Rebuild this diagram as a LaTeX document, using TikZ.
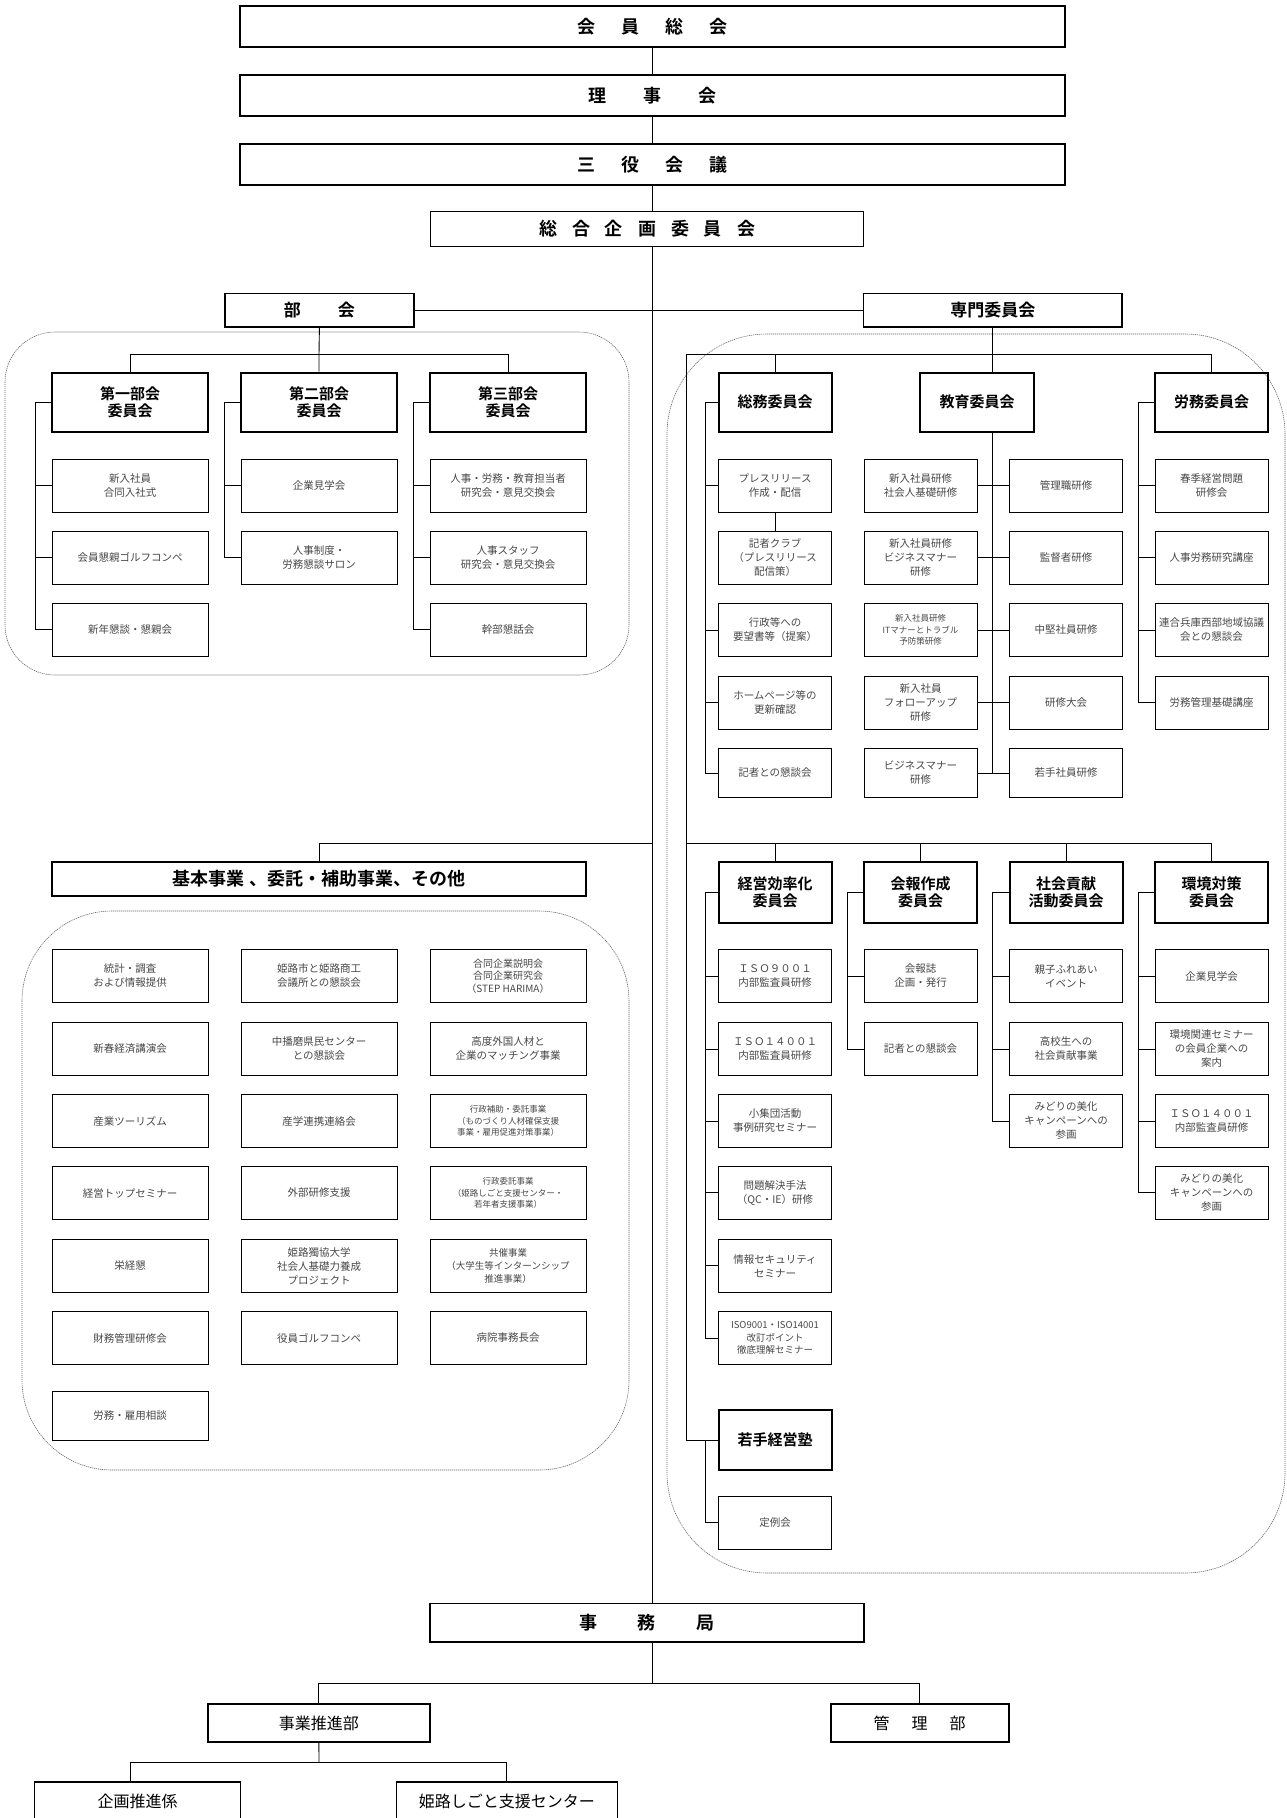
\documentclass[tikz,border=0pt]{standalone}
\usepackage{fontspec}
\setmainfont{Noto Sans CJK JP}[BoldFont={Noto Sans CJK JP Bold}]
\usetikzlibrary{calc}
\tikzset{
  topbox/.style={draw, line width=1.6pt, minimum width=825, minimum height=41,
    font=\bfseries\fontsize{18}{20}\selectfont},
  midbox/.style={draw, line width=1.6pt, minimum width=433, minimum height=35,
    font=\bfseries\fontsize{18}{20}\selectfont},
  head/.style={draw, line width=2pt, minimum width=156, minimum height=59, align=center,
    inner sep=1pt, font=\bfseries\fontsize{15}{17}\selectfont},
  item/.style={draw, line width=0.8pt, minimum width=156, minimum height=53, align=center,
    inner sep=1pt, text=black!72, font=\fontsize{10.5}{14}\selectfont},
  small/.style={font=\fontsize{8.5}{11.5}\selectfont},
  low/.style={minimum height=48.6},
  narrow/.style={minimum width=113},
  region/.style={draw=black!60, line width=0.6pt, dash pattern=on 1.2pt off 0.8pt},
  conn/.style={line width=0.9pt},
  office/.style={draw, line width=1.6pt, minimum height=38.5, font=\fontsize{16}{18}\selectfont}
}
\begin{document}
\begin{tikzpicture}[x=1pt, y=-1pt]
  \useasboundingbox (0,0) rectangle (1287,1818);
  \clip (0,0) rectangle (1287,1818);

  % frames
  \draw[region, rounded corners=50pt] (5,332) rectangle (629,675);
  \draw[region, rounded corners=100pt] (667,334) rectangle (1285,1573);
  \draw[region, rounded corners=90pt] (22,911) rectangle (629,1470);

  % top of the organisation
  \node[topbox] (kaiin) at (652.5,26.5) {会\hspace{26pt}員\hspace{26pt}総\hspace{26pt}会};
  \node[topbox] (riji) at (652.5,95.5) {理\hspace{37pt}事\hspace{37pt}会};
  \node[topbox] (sanyaku) at (652.5,164.4) {三\hspace{26pt}役\hspace{26pt}会\hspace{26pt}議};
  \node[midbox] (sogo) at (647,229) {総\hspace{15pt}合\hspace{15pt}企\hspace{15pt}画\hspace{15pt}委\hspace{15pt}員\hspace{15pt}会};
  \node[draw, line width=1.6pt, minimum width=189, minimum height=33.5,
    font=\bfseries\fontsize{17}{19}\selectfont] (bukai) at (319.4,310.4) {部\hspace{37pt}会};
  \node[draw, line width=1.6pt, minimum width=258.5, minimum height=33.5,
    font=\bfseries\fontsize{17}{19}\selectfont] (senmon) at (992.75,310.4) {専門委員会};

  \draw[conn] (kaiin.south) -- (riji.north);
  \draw[conn] (riji.south) -- (sanyaku.north);
  \draw[conn] (sanyaku.south) -- (sanyaku.south |- sogo.north);
  \draw[conn] (bukai.east) -- (senmon.west);

  % bukai
  \node[head] (dai1) at (130,402.2) {第一部会\\委員会};
  \node[head] (dai2) at (319,402.2) {第二部会\\委員会};
  \node[head] (dai3) at (508,402.2) {第三部会\\委員会};
  \node[item] (i11) at (130,485.8) {新入社員\\合同入社式};
  \node[item] (i12) at (130,557.8) {会員懇親ゴルフコンペ};
  \node[item] (i13) at (130,629.8) {新年懇談・懇親会};
  \node[item] (i21) at (319,485.8) {企業見学会};
  \node[item] (i22) at (319,557.8) {人事制度・\\労務懇談サロン};
  \node[item] (i31) at (508,485.8) {人事・労務・教育担当者\\研究会・意見交換会};
  \node[item] (i32) at (508,557.8) {人事スタッフ\\研究会・意見交換会};
  \node[item] (i33) at (508,629.8) {幹部懇話会};

  \coordinate (barB) at (319,354.3);
  \draw[conn] (bukai.south) -- (barB) -- (dai2.north);
  \draw[conn] (dai1.north) |- (barB) -| (dai3.north);
  \draw[conn] (dai1.west) -- ++(-16,0) |- (i13.west);
  \draw[conn] (dai2.west) -- ++(-16,0) |- (i22.west);
  \draw[conn] (dai3.west) -- ++(-16,0) |- (i33.west);
  \foreach \n in {i11,i12,i21,i31,i32}
    \draw[conn] (\n.west) -- ++(-16,0);

  % senmon iinkai, upper row
  \node[head, narrow] (somu) at (775,402.2) {総務委員会};
  \node[head, minimum width=114] (kyoiku) at (977,402.2) {教育委員会};
  \node[head, narrow] (romu) at (1211.5,402.2) {労務委員会};

  \node[item, narrow] (s1) at (775,485.8) {プレスリリース\\作成・配信};
  \node[item, narrow] (s2) at (775,557.8) {記者クラブ\\（プレスリリース\\配信策）};
  \node[item, narrow] (s3) at (775,630) {行政等への\\要望書等（提案）};
  \node[item, narrow] (s4) at (775,702.8) {ホームページ等の\\更新確認};
  \node[item, narrow, low] (s5) at (775,773) {記者との懇談会};

  \node[item, narrow] (e11) at (920.5,485.8) {新入社員研修\\社会人基礎研修};
  \node[item, narrow] (e12) at (920.5,557.8) {新入社員研修\\ビジネスマナー\\研修};
  \node[item, narrow, small] (e13) at (920.5,630) {新入社員研修\\ITマナーとトラブル\\予防策研修};
  \node[item, narrow] (e14) at (920.5,702.8) {新入社員\\フォローアップ\\研修};
  \node[item, narrow, low] (e15) at (920.5,773) {ビジネスマナー\\研修};
  \node[item, narrow] (e21) at (1066,485.8) {管理職研修};
  \node[item, narrow] (e22) at (1066,557.8) {監督者研修};
  \node[item, narrow] (e23) at (1066,630) {中堅社員研修};
  \node[item, narrow] (e24) at (1066,702.8) {研修大会};
  \node[item, narrow, low] (e25) at (1066,773) {若手社員研修};

  \node[item, narrow] (r1) at (1211.5,485.8) {春季経営問題\\研修会};
  \node[item, narrow] (r2) at (1211.5,557.8) {人事労務研究講座};
  \node[item, narrow] (r3) at (1211.5,630) {連合兵庫西部地域協議\\会との懇談会};
  \node[item, narrow] (r4) at (1211.5,702.8) {労務管理基礎講座};

  % senmon iinkai, lower row
  \node[head, narrow, minimum height=60.7] (keiei) at (775,892.3) {経営効率化\\委員会};
  \node[head, narrow, minimum height=60.7] (kaiho) at (920.5,892.3) {会報作成\\委員会};
  \node[head, narrow, minimum height=60.7] (shakai) at (1066,892.3) {社会貢献\\活動委員会};
  \node[head, narrow, minimum height=60.7] (kankyo) at (1211.5,892.3) {環境対策\\委員会};

  \node[item, narrow] (k1) at (775,976) {ＩＳＯ９００１\\内部監査員研修};
  \node[item, narrow] (k2) at (775,1049) {ＩＳＯ１４００１\\内部監査員研修};
  \node[item, narrow] (k3) at (775,1121) {小集団活動\\事例研究セミナー};
  \node[item, narrow] (k4) at (775,1192.8) {問題解決手法\\（QC・IE）研修};
  \node[item, narrow] (k5) at (775,1265.8) {情報セキュリティ\\セミナー};
  \node[item, narrow, font=\fontsize{9.5}{12.5}\selectfont] (k6) at (775,1338) {ISO9001・ISO14001\\改訂ポイント\\徹底理解セミナー};

  \node[item, narrow] (h1) at (920.5,976) {会報誌\\企画・発行};
  \node[item, narrow] (h2) at (920.5,1049) {記者との懇談会};

  \node[item, narrow] (c1) at (1066,976) {親子ふれあい\\イベント};
  \node[item, narrow] (c2) at (1066,1049) {高校生への\\社会貢献事業};
  \node[item, narrow] (c3) at (1066,1121) {みどりの美化\\キャンペーンへの\\参画};

  \node[item, narrow] (v1) at (1211.5,976) {企業見学会};
  \node[item, narrow] (v2) at (1211.5,1049) {環境関連セミナー\\の会員企業への\\案内};
  \node[item, narrow] (v3) at (1211.5,1121) {ＩＳＯ１４００１\\内部監査員研修};
  \node[item, narrow] (v4) at (1211.5,1192.8) {みどりの美化\\キャンペーンへの\\参画};

  \node[head, narrow, minimum height=60] (wakate) at (775,1440) {若手経営塾};
  \node[item, narrow] (teirei) at (775,1522.8) {定例会};

  \coordinate (barU) at (686,354.3);
  \coordinate (barL) at (686,843.3);
  \draw[conn] (barU) -| (romu.north);
  \draw[conn] (barU) |- (wakate.west);
  \draw[conn] (somu.north) -- (somu.north |- barU);
  \draw[conn] (senmon.south) -- (senmon.south |- kyoiku.north);
  \draw[conn] (barL) -| (kankyo.north);
  \foreach \n in {keiei,kaiho,shakai}
    \draw[conn] (\n.north) -- (\n.north |- barL);

  \draw[conn] (somu.west) -- ++(-12,0) |- (s5.west);
  \draw[conn] (s1.south) -- (s2.north);
  \foreach \n in {s1,s3,s4}
    \draw[conn] (\n.west) -- ++(-12,0);
  \draw[conn] (senmon.south |- kyoiku.south) -- (senmon.south |- e15.east);
  \foreach \r in {1,...,5}
    \draw[conn] (e1\r.east) -- (e2\r.west);
  \draw[conn] (romu.west) -- ++(-16,0) |- (r4.west);
  \foreach \n in {r1,r2,r3}
    \draw[conn] (\n.west) -- ++(-16,0);

  \draw[conn] (keiei.west) -- ++(-12,0) |- (k6.west);
  \foreach \n in {k1,k2,k3,k4,k5}
    \draw[conn] (\n.west) -- ++(-12,0);
  \draw[conn] (kaiho.west) -- ++(-16,0) |- (h2.west);
  \draw[conn] (h1.west) -- ++(-16,0);
  \draw[conn] (shakai.west) -- ++(-16,0) |- (c3.west);
  \foreach \n in {c1,c2}
    \draw[conn] (\n.west) -- ++(-16,0);
  \draw[conn] (kankyo.west) -- ++(-16,0) |- (v4.west);
  \foreach \n in {v1,v2,v3}
    \draw[conn] (\n.west) -- ++(-16,0);
  \draw[conn] (wakate.west) -- ++(-12,0) |- (teirei.west);

  % kihon jigyo
  \node[draw, line width=1.6pt, minimum width=534, minimum height=34.3,
    font=\bfseries\fontsize{18}{20}\selectfont] (kihon) at (319,879) {基本事業 、委託・補助事業、その他};
  \coordinate (barK) at (652.5,843.3);
  \draw[conn] (kihon.north) |- (barK);

  \node[item] (g11) at (130,976) {統計・調査\\および情報提供};
  \node[item] (g12) at (319,976) {姫路市と姫路商工\\会議所との懇談会};
  \node[item, font=\fontsize{10}{12.5}\selectfont] (g13) at (508,976) {合同企業説明会\\合同企業研究会\\（STEP HARIMA）};
  \node[item] (g21) at (130,1049) {新春経済講演会};
  \node[item] (g22) at (319,1049) {中播磨県民センター\\との懇談会};
  \node[item] (g23) at (508,1049) {高度外国人材と\\企業のマッチング事業};
  \node[item] (g31) at (130,1121) {産業ツーリズム};
  \node[item] (g32) at (319,1121) {産学連携連絡会};
  \node[item, small] (g33) at (508,1121) {行政補助・委託事業\\（ものづくり人材確保支援\\事業・雇用促進対策事業）};
  \node[item] (g41) at (130,1193) {経営トップセミナー};
  \node[item] (g42) at (319,1193) {外部研修支援};
  \node[item, small] (g43) at (508,1193) {行政委託事業\\（姫路しごと支援センター・\\若年者支援事業）};
  \node[item] (g51) at (130,1266) {栄経懇};
  \node[item] (g52) at (319,1266) {姫路獨協大学\\社会人基礎力養成\\プロジェクト};
  \node[item, font=\fontsize{9.5}{13}\selectfont] (g53) at (508,1266) {共催事業\\（大学生等インターンシップ\\推進事業）};
  \node[item] (g61) at (130,1338) {財務管理研修会};
  \node[item] (g62) at (319,1338) {役員ゴルフコンペ};
  \node[item] (g63) at (508,1338) {病院事務長会};
  \node[item, low] (g71) at (130,1416) {労務・雇用相談};

  % jimukyoku
  \node[office, minimum width=433.5, font=\bfseries\fontsize{18}{20}\selectfont] (jimu) at (647,1622.7) {事\hspace{41pt}務\hspace{41pt}局};
  \draw[conn] (sanyaku.south |- sogo.south) -- (sanyaku.south |- jimu.north);
  \node[office, minimum width=222] (jigyo) at (318.9,1723) {事業推進部};
  \node[office, minimum width=178] (kanri) at (919.7,1723) {管\hspace{22pt}理\hspace{22pt}部};
  \node[office, minimum width=206] (kikaku) at (137.5,1801) {企画推進係};
  \node[office, minimum width=221] (shigoto) at (506.8,1801) {姫路しごと支援センター};

  \coordinate (barJ) at (652.5,1683.3);
  \coordinate (barS) at (319,1762);
  \draw[conn] (sanyaku.south |- jimu.south) -- (barJ);
  \draw[conn] (jigyo.north) |- (barJ) -| (kanri.north);
  \draw[conn] (jigyo.south) -- (barS);
  \draw[conn] ([xshift=-7pt]kikaku.north) |- (barS) -| (shigoto.north);
\end{tikzpicture}
\end{document}
